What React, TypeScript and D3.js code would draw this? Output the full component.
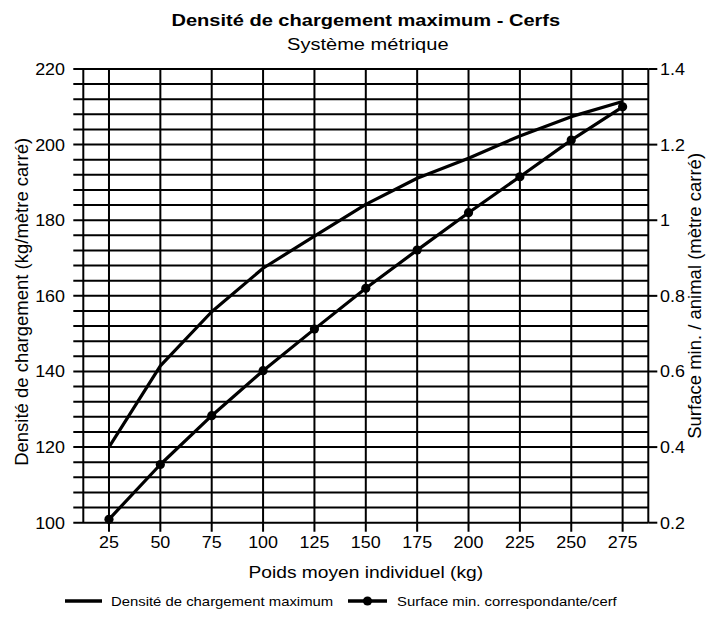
import React from "react";
import * as d3 from "d3";

const categories = [25, 50, 75, 100, 125, 150, 175, 200, 225, 250, 275];
const densite = [120, 141.5, 155.8, 167.3, 175.8, 184.2, 191.1, 196.4, 202.3, 207.4, 211.4];
const surface = [0.209, 0.354, 0.483, 0.602, 0.712, 0.82, 0.921, 1.02, 1.115, 1.212, 1.3];
const leftTicks = [100, 120, 140, 160, 180, 200, 220];
const rightTicks = [0.2, 0.4, 0.6, 0.8, 1, 1.2, 1.4];

const title = "Densité de chargement maximum - Cerfs";
const subtitle = "Système métrique";
const xTitle = "Poids moyen individuel (kg)";
const yLeftTitle = "Densité de chargement (kg/mètre carré)";
const yRightTitle = "Surface min. / animal (mètre carré)";
const legendLabels = ["Densité de chargement maximum", "Surface min. correspondante/cerf"];

const W = 717, H = 619;
const L = 83.3, R = 648.3, T = 69, B = 522.7;
const FONT = "'Liberation Sans', Arial, Helvetica, sans-serif";

function HText(props: { x: number; y: number; sx: number; size: number; anchor?: string; weight?: string; children: React.ReactNode }) {
  const { x, y, sx, size, anchor = "start", weight = "normal", children } = props;
  return (
    <text transform={`translate(${x},${y}) scale(${sx},1)`} textAnchor={anchor} fontSize={size} fontWeight={weight}>
      {children}
    </text>
  );
}

export default function App() {
  const x = d3.scalePoint<number>().domain(categories).range([L, R]).padding(0.5);
  const yL = d3.scaleLinear().domain([100, 220]).range([B, T]);
  const yR = d3.scaleLinear().domain([0.2, 1.4]).range([B, T]);
  const minor = d3.range(100, 220.001, 4);

  const line1 = d3.line<number>().x((_, i) => x(categories[i])!).y((d) => yL(d))(densite)!;
  const line2 = d3.line<number>().x((_, i) => x(categories[i])!).y((d) => yR(d))(surface)!;

  const midX = (L + R) / 2;
  const midY = (T + B) / 2;

  return (
    <svg width={W} height={H} style={{ position: "absolute", left: 0, top: 0, background: "#fff" }} fontFamily={FONT}>
      <rect x={0} y={0} width={W} height={H} fill="#fff" />
      <HText x={midX} y={26} sx={1.18} size={17} anchor="middle" weight="bold">{title}</HText>
      <HText x={midX + 2} y={50} sx={1.18} size={17} anchor="middle">{subtitle}</HText>

      {/* horizontal grid + left ticks */}
      {minor.map((v) => (
        <line key={"h" + v} x1={L - 10} x2={R} y1={yL(v)} y2={yL(v)} stroke="#000" strokeWidth={2} />
      ))}
      {/* right major ticks */}
      {rightTicks.map((v) => (
        <line key={"rt" + v} x1={R} x2={R + 9} y1={yR(v)} y2={yR(v)} stroke="#000" strokeWidth={2} />
      ))}
      {/* vertical grid + bottom ticks */}
      {categories.map((c) => (
        <line key={"v" + c} x1={x(c)} x2={x(c)} y1={T} y2={B + 9} stroke="#000" strokeWidth={2} />
      ))}
      <line x1={L} x2={L} y1={T} y2={B} stroke="#000" strokeWidth={2} />
      <line x1={R} x2={R} y1={T} y2={B} stroke="#000" strokeWidth={2} />

      {/* tick labels */}
      {leftTicks.map((v) => (
        <HText key={"lt" + v} x={65} y={yL(v) + 6} sx={1.12} size={16} anchor="end">{v}</HText>
      ))}
      {rightTicks.map((v) => (
        <HText key={"rl" + v} x={660} y={yR(v) + 6} sx={1.12} size={16}>{String(v)}</HText>
      ))}
      {categories.map((c) => (
        <HText key={"xl" + c} x={x(c)!} y={548} sx={1.12} size={16} anchor="middle">{c}</HText>
      ))}

      {/* axis titles */}
      <HText x={midX} y={578} sx={1.2} size={16} anchor="middle">{xTitle}</HText>
      <text transform={`translate(28,${midY + 6}) rotate(-90)`} textAnchor="middle" fontSize={18.5}>{yLeftTitle}</text>
      <text transform={`translate(701,${midY}) rotate(-90)`} textAnchor="middle" fontSize={18.5}>{yRightTitle}</text>

      {/* series */}
      <path d={line1} fill="none" stroke="#000" strokeWidth={3.2} strokeLinejoin="round" />
      <path d={line2} fill="none" stroke="#000" strokeWidth={3.2} strokeLinejoin="round" />
      {surface.map((v, i) => (
        <circle key={"c" + i} cx={x(categories[i])} cy={yR(v)} r={4.6} fill="#000" />
      ))}

      {/* legend */}
      <line x1={65} x2={102} y1={601} y2={601} stroke="#000" strokeWidth={3.5} />
      <HText x={111} y={606} sx={1.24} size={12}>{legendLabels[0]}</HText>
      <line x1={348} x2={387} y1={601} y2={601} stroke="#000" strokeWidth={3.5} />
      <circle cx={367.5} cy={601} r={4.6} fill="#000" />
      <HText x={397} y={606} sx={1.24} size={12}>{legendLabels[1]}</HText>
    </svg>
  );
}
